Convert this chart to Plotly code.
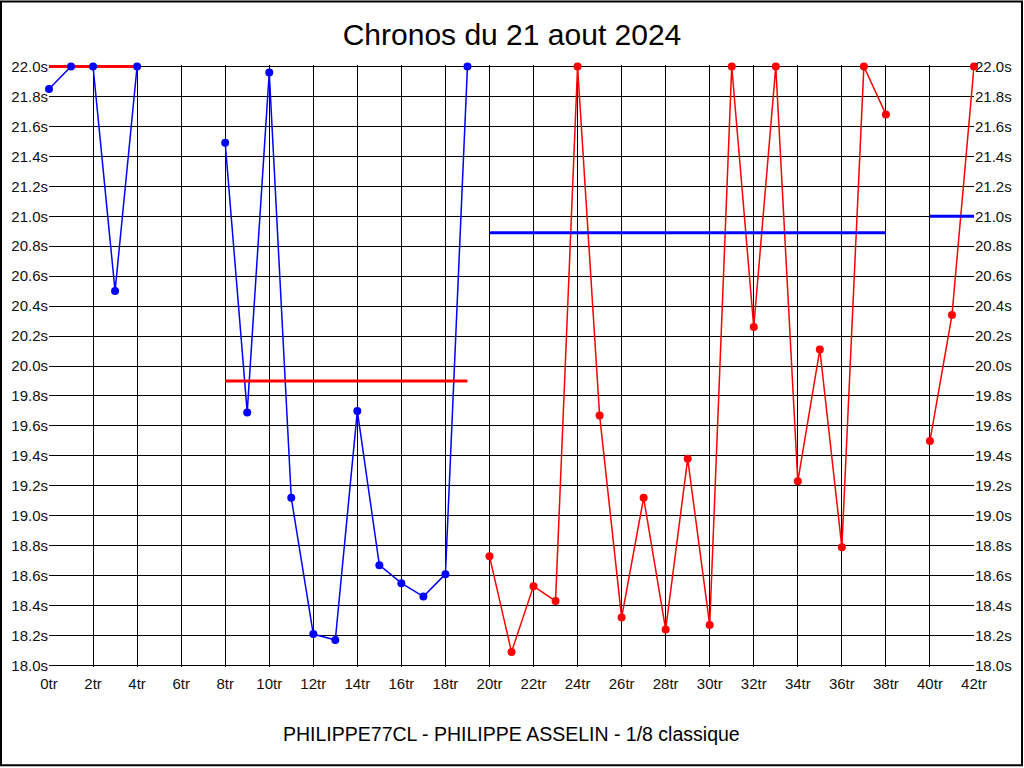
import plotly.graph_objects as go

# ---- data ----
blue_laps = list(range(0, 20))
blue_times = [21.85, 22.0, 22.0, 20.5, 22.0, None, None, None, 21.49, 19.69,
              21.96, 19.12, 18.21, 18.17, 19.70, 18.67, 18.55, 18.46, 18.61, 22.0]

red_laps = list(range(20, 43))
red_times = [18.73, 18.09, 18.53, 18.43, 22.0, 19.67, 18.32, 19.12, 18.24, 19.38,
             18.27, 22.0, 20.26, 22.0, 19.23, 20.11, 18.79, 22.0, 21.68, None,
             19.5, 20.34, 22.0]

avg_starts = [0, 8, 20, 40]
avg_ends = [4, 19, 38, 42]
avg_values = [22.0, 19.9, 20.89, 21.0]
avg_colors = ["#FF0000", "#FF0000", "#0000FF", "#0000FF"]

x_ticks = list(range(0, 43, 2))
y_ticks = [round(18.0 + 0.2 * i, 1) for i in range(21)]

TITLE = "Chronos du 21 aout 2024"
SUBTITLE = "PHILIPPE77CL - PHILIPPE ASSELIN - 1/8 classique"

FONT = "Liberation Sans, Arial, sans-serif"

# layout geometry (pixels)
W, H = 1024, 768
Y_PAD = 0.01                      # small padding so thick lines at 22.0 aren't clipped
PX_PER_S = 150.0
PAD_PX = Y_PAD * PX_PER_S
PLOT_TOP = 66 - PAD_PX
PLOT_BOT = 666 + PAD_PX
PLOT_H = PLOT_BOT - PLOT_TOP
L, R = 49, 50
PLOT_W = W - L - R


def py(p):
    return (PLOT_BOT - p) / PLOT_H


def px(p):
    return (p - L) / PLOT_W


fig = go.Figure()

series = [(blue_laps, blue_times, "#0000FF"), (red_laps, red_times, "#FF0000")]

for xs, ys, c in series:
    fig.add_trace(go.Scatter(x=xs, y=ys, mode="lines",
                             line=dict(color=c, width=1.5),
                             connectgaps=False, showlegend=False,
                             hoverinfo="skip"))

for s, e, v, c in zip(avg_starts, avg_ends, avg_values, avg_colors):
    fig.add_trace(go.Scatter(x=[s, e], y=[v, v], mode="lines",
                             line=dict(color=c, width=3), showlegend=False,
                             hoverinfo="skip"))

for xs, ys, c in series:
    fig.add_trace(go.Scatter(x=xs, y=ys, mode="markers",
                             marker=dict(color=c, size=8),
                             cliponaxis=False, showlegend=False))

fig.add_trace(go.Scatter(x=[0], y=[18.0], yaxis="y2", mode="markers",
                         marker=dict(opacity=0), showlegend=False,
                         hoverinfo="skip"))

axis_font = dict(family=FONT, size=15, color="#111111")
yr = [18.0 - Y_PAD, 22.0 + Y_PAD]

fig.update_layout(
    width=W, height=H,
    margin=dict(l=L, r=R, t=PLOT_TOP, b=H - PLOT_BOT),
    paper_bgcolor="white", plot_bgcolor="white",
    title=dict(text=TITLE, x=0.5, xanchor="center", y=1 - 34 / H,
               yanchor="middle", yref="container",
               font=dict(family=FONT, size=30, color="black")),
    xaxis=dict(range=[0, 42], tickvals=x_ticks,
               ticktext=[f"{v}tr" for v in x_ticks],
               showgrid=True, gridcolor="black", gridwidth=1,
               zeroline=False, showline=False,
               ticks="outside", ticklen=4 - PAD_PX, tickcolor="white",
               tickfont=axis_font, automargin=False),
    yaxis=dict(range=yr, tickvals=y_ticks,
               ticktext=[f"{v:.1f}s" for v in y_ticks],
               showgrid=True, gridcolor="black", gridwidth=1,
               zeroline=False, showline=False,
               tickfont=axis_font, automargin=False),
    yaxis2=dict(range=yr, tickvals=y_ticks,
                ticktext=[f"{v:.1f}s" for v in y_ticks],
                overlaying="y", side="right", showgrid=False,
                zeroline=False, showline=False,
                tickfont=axis_font, automargin=False),
    annotations=[dict(text=SUBTITLE, x=0.5, y=py(735),
                      xref="paper", yref="paper", xanchor="center",
                      yanchor="middle", showarrow=False,
                      font=dict(family=FONT, size=19.5, color="black"))],
    shapes=[dict(type="rect", xref="paper", yref="paper",
                 x0=px(1), x1=px(1022), y0=py(766), y1=py(1),
                 line=dict(color="black", width=2), layer="below")],
)

fig.write_html("out.html",
               config={"displayModeBar": False},
               post_script="document.body.style.margin='0';"
                           "document.body.style.overflow='hidden';")
